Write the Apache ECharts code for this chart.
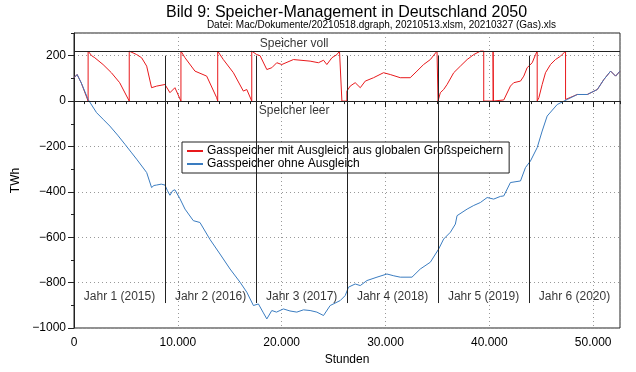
<!DOCTYPE html>
<html><head><meta charset="utf-8">
<script src="https://cdn.jsdelivr.net/npm/echarts@6/dist/echarts.min.js"></script>
<style>html,body{margin:0;padding:0;background:#fff}#c{width:636px;height:372px}</style>
</head><body><div id="c"></div>
<script>
// ---- data ----
const titleText = 'Bild 9: Speicher-Management in Deutschland 2050';
const subtitleText = 'Datei: Mac/Dokumente/20210518.dgraph, 20210513.xlsm, 20210327 (Gas).xls';
const seriesNames = ['Gasspeicher mit Ausgleich aus globalen Großspeichern', 'Gasspeicher ohne Ausgleich'];
const yearLabels = ['Jahr 1 (2015)', 'Jahr 2 (2016)', 'Jahr 3 (2017)', 'Jahr 4 (2018)', 'Jahr 5 (2019)', 'Jahr 6 (2020)'];
const yearBounds = [0, 8760, 17544, 26304, 35064, 43824, 52584];
const capacity = 220;
const yearLineTop = 200, yearLineBottom = -890, yearLabelY = -862;

const blueData = [[0,103],[300,117],[700,80],[1360,7],[2170,-51],[2800,-80],[3450,-110],[4200,-150],[4900,-190],[5500,-225],[6030,-256],[7000,-315],[7470,-381],[7700,-372],[7960,-370],[8400,-366],[8760,-370],[9000,-395],[9240,-415],[9500,-395],[9720,-391],[10200,-430],[10690,-476],[11490,-527],[12130,-535],[13100,-610],[14060,-674],[15030,-740],[15990,-798],[16640,-842],[17280,-901],[17760,-894],[18200,-930],[18570,-960],[19050,-923],[19500,-930],[20170,-916],[20800,-925],[21460,-930],[22100,-920],[22740,-923],[23390,-930],[24030,-945],[24670,-901],[25640,-879],[26120,-857],[26440,-820],[27080,-806],[27570,-813],[28210,-791],[29180,-776],[30140,-762],[30800,-770],[31420,-776],[32550,-776],[33350,-740],[34320,-710],[35120,-652],[35600,-608],[36250,-578],[36730,-542],[36890,-505],[37860,-476],[38500,-460],[39140,-447],[39790,-425],[40420,-432],[41070,-420],[41390,-418],[42030,-359],[43000,-352],[43480,-293],[43960,-264],[44610,-205],[45090,-132],[45570,-66],[46540,-15],[47500,7],[48470,29],[49430,29],[50400,51],[51030,95],[51680,132],[52160,110],[52584,132]];

const redData = [[0,103],[300,117],[700,80],[1360,0],[1360,220],[1700,200],[2000,191],[2800,161],[3600,125],[4400,81],[5320,0],[5320,220],[6030,205],[6510,191],[7000,154],[7470,59],[7960,66],[8760,73],[9240,37],[9720,59],[10300,0],[10300,220],[10690,191],[11650,132],[12780,110],[13740,15],[13840,0],[13840,220],[14380,183],[15350,125],[16310,44],[16640,51],[17120,0],[17120,220],[17600,205],[17920,200],[18570,139],[19050,147],[19530,169],[20010,161],[21130,183],[22740,176],[23540,169],[24030,180],[24350,161],[24840,191],[25320,205],[25570,220],[25800,0],[26280,0],[26280,44],[26600,66],[27080,81],[27570,59],[28050,88],[28850,103],[29810,125],[30460,117],[31420,103],[32380,103],[33030,132],[33670,161],[34320,183],[34960,220],[35060,0],[35280,37],[35600,51],[35930,73],[36570,125],[37210,154],[37860,183],[38500,205],[39140,220],[39460,220],[39460,0],[40360,0],[40360,220],[40400,0],[41390,5],[42030,66],[42350,81],[43000,88],[43320,110],[43640,147],[44130,169],[44450,205],[44610,220],[44610,0],[44770,15],[45090,73],[45410,125],[45890,161],[46370,183],[46860,198],[47340,220],[47340,7],[48470,29],[49430,29],[50400,51],[51030,95],[51680,132],[52160,110],[52584,132]];

// ---- chart ----
const FONT = '"Liberation Sans", Arial, Helvetica, sans-serif';
const chart = echarts.init(document.getElementById('c'), null, {renderer: 'canvas'});
const fmtX = v => String(v).replace(/\B(?=(\d{3})+(?!\d))/g, '.');
const fmtY = v => (v < 0 ? '\u2212' + Math.abs(v) : String(v));
const yearCenters = yearLabels.map((t, i) => ({value: [(yearBounds[i] + yearBounds[i + 1]) / 2, yearLabelY], name: t}));

const option = {
  animation: false,
  textStyle: {fontFamily: FONT},
  grid: {left: 74, right: 16, top: 33, bottom: 44, show: true, borderColor: '#222', borderWidth: 1, containLabel: false},
  graphic: [
    {type: 'text', left: 166, top: 5, style: {text: titleText, font: '16px ' + FONT, fill: '#000'}},
    {type: 'text', right: 80, top: 20, style: {text: subtitleText, font: '10px ' + FONT, fill: '#000'}}
  ],
  legend: {
    left: 182, top: 142, orient: 'vertical', itemGap: 1, padding: [3, 6, 3, 5],
    backgroundColor: '#fff', borderColor: '#222', borderWidth: 1, borderRadius: 0,
    itemWidth: 16, itemHeight: 2, icon: 'rect',
    textStyle: {fontSize: 12, color: '#000', fontFamily: FONT, padding: [0, 0, 0, -1]},
    data: seriesNames
  },
  xAxis: [{
    type: 'value', min: 0, max: 52584, interval: 10000,
    name: 'Stunden', nameLocation: 'middle', nameGap: 24,
    nameTextStyle: {fontSize: 12, color: '#000', fontFamily: FONT},
    axisLine: {lineStyle: {color: '#222'}}, axisTick: {show: true, length: 6, lineStyle: {color: '#222'}},
    axisLabel: {formatter: fmtX, fontSize: 12, color: '#000', margin: 9, showMaxLabel: false, fontFamily: FONT},
    splitLine: {show: true, lineStyle: {color: '#999', type: [1, 3], width: 1}}
  }, {
    type: 'value', min: 0, max: 52584, interval: 1000, position: 'bottom',
    axisLine: {show: false}, axisTick: {show: true, length: 3, lineStyle: {color: '#222'}},
    axisLabel: {show: false}, splitLine: {show: false}
  }],
  yAxis: [{
    type: 'value', min: -1000, max: 300, interval: 200,
    name: 'TWh', nameLocation: 'middle', nameGap: 52, nameRotate: 90,
    nameTextStyle: {fontSize: 12, color: '#000', fontFamily: FONT},
    axisLine: {show: true, lineStyle: {color: '#222'}}, axisTick: {show: true, length: 6, lineStyle: {color: '#222'}},
    axisLabel: {formatter: fmtY, fontSize: 12, color: '#000', margin: 8, showMaxLabel: false, fontFamily: FONT},
    splitLine: {show: true, lineStyle: {color: '#999', type: [1, 3], width: 1}}
  }, {
    type: 'value', min: -1000, max: 300, interval: 100, position: 'left',
    axisLine: {show: false}, axisTick: {show: true, length: 3, lineStyle: {color: '#222'}},
    axisLabel: {show: false}, splitLine: {show: false}
  }],
  series: [
    {
      name: seriesNames[0], type: 'line', data: redData, showSymbol: false, symbol: 'none',
      lineStyle: {color: '#e8191c', width: 1}, itemStyle: {color: '#e8191c'}, z: 3,
      markLine: {
        silent: true, symbol: 'none', label: {show: false},
        lineStyle: {color: '#222', width: 1, type: 'solid'},
        data: [{yAxis: capacity}, {yAxis: 0}]
      }
    },
    {
      name: seriesNames[1], type: 'line', data: blueData, showSymbol: false, symbol: 'none',
      lineStyle: {color: '#3a7cc0', width: 1}, itemStyle: {color: '#3a7cc0'}, z: 4,
      markLine: {
        silent: true, symbol: 'none', label: {show: false},
        lineStyle: {color: '#222', width: 1, type: 'solid'},
        data: yearBounds.slice(1, -1).map(x => [{coord: [x, yearLineTop]}, {coord: [x, yearLineBottom]}])
      }
    },
    {
      type: 'scatter', symbolSize: 0, silent: true, z: 5,
      data: yearCenters,
      label: {show: true, position: 'inside', formatter: p => p.name, fontSize: 12, color: '#000', fontFamily: FONT}
    },
    {
      type: 'scatter', symbolSize: 0, silent: true, z: 5,
      data: [{value: [21200, 252], name: 'Speicher voll'}, {value: [21200, -42], name: 'Speicher leer'}],
      label: {show: true, position: 'inside', formatter: p => p.name, fontSize: 12, color: '#000', fontFamily: FONT}
    }
  ]
};
chart.setOption(option);
</script></body></html>
